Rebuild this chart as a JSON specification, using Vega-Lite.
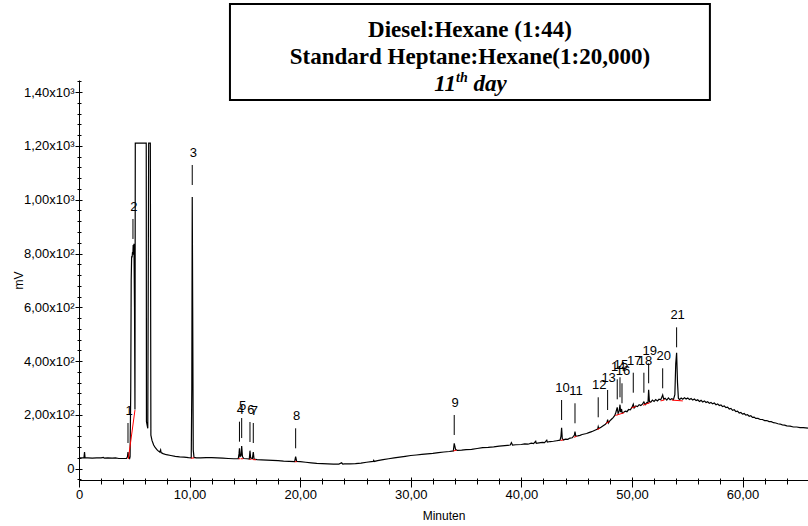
{
  "$schema": "https://vega.github.io/schema/vega-lite/v6.json",
  "width": 729,
  "height": 400,
  "autosize": {"type": "none"},
  "padding": {"left": 79, "top": 80, "right": 0, "bottom": 46},
  "background": "white",
  "config": {
    "view": {"stroke": null},
    "font": "Liberation Sans",
    "axis": {"grid": false, "domainColor": "black", "tickColor": "black", "labelColor": "black", "titleColor": "black", "labelFont": "Liberation Sans", "titleFont": "Liberation Sans", "labelFontSize": 13, "titleFontSize": 12, "titleFontWeight": "normal", "labelFlush": false, "labelOverlap": false, "domainWidth": 1, "tickWidth": 1}
  },
  "datasets": {
    "trace": [
      {"t":0,"v":40},{"t":0.3,"v":40},{"t":0.45,"v":41},{"t":0.5,"v":62},{"t":0.55,"v":40},{"t":0.8,"v":40},{"t":1.2,"v":39},{"t":1.6,"v":40},{"t":2.0,"v":40},{"t":2.2,"v":42},{"t":2.3,"v":39},{"t":2.6,"v":40},{"t":3.0,"v":39},{"t":3.3,"v":40},{"t":3.6,"v":38},{"t":4.0,"v":38},{"t":4.3,"v":38},{"t":4.38,"v":44},{"t":4.43,"v":62},{"t":4.5,"v":42},{"t":4.58,"v":38},{"t":4.62,"v":45},{"t":4.68,"v":300},{"t":4.72,"v":700},{"t":4.76,"v":790},{"t":4.8,"v":785},{"t":4.84,"v":805},{"t":4.87,"v":795},{"t":4.9,"v":832},{"t":4.93,"v":810},{"t":4.97,"v":836},{"t":5.02,"v":600},{"t":5.06,"v":220},{"t":5.09,"v":1210},{"t":6.08,"v":1210},{"t":6.1,"v":175},{"t":6.22,"v":150},{"t":6.3,"v":1210},{"t":6.45,"v":1210},{"t":6.5,"v":125},{"t":6.6,"v":105},{"t":6.75,"v":88},{"t":6.9,"v":78},{"t":7.1,"v":68},{"t":7.3,"v":62},{"t":7.38,"v":70},{"t":7.42,"v":60},{"t":7.6,"v":56},{"t":7.9,"v":52},{"t":8.3,"v":49},{"t":8.7,"v":46},{"t":9.1,"v":44},{"t":9.5,"v":43},{"t":9.9,"v":41},{"t":10.15,"v":40},{"t":10.2,"v":300},{"t":10.24,"v":1010},{"t":10.28,"v":600},{"t":10.33,"v":70},{"t":10.4,"v":42},{"t":10.6,"v":40},{"t":11,"v":40},{"t":11.5,"v":41},{"t":12,"v":41},{"t":12.5,"v":40},{"t":13,"v":39},{"t":13.5,"v":38},{"t":14,"v":37},{"t":14.4,"v":37},{"t":14.47,"v":55},{"t":14.51,"v":76},{"t":14.56,"v":45},{"t":14.65,"v":48},{"t":14.71,"v":84},{"t":14.78,"v":45},{"t":14.9,"v":38},{"t":15.2,"v":37},{"t":15.4,"v":36},{"t":15.46,"v":67},{"t":15.52,"v":40},{"t":15.68,"v":38},{"t":15.76,"v":62},{"t":15.83,"v":36},{"t":16.1,"v":34},{"t":16.5,"v":33},{"t":17,"v":32},{"t":17.5,"v":31},{"t":18,"v":30},{"t":18.5,"v":28},{"t":19,"v":27},{"t":19.5,"v":26},{"t":19.59,"v":45},{"t":19.68,"v":27},{"t":20,"v":26},{"t":20.5,"v":24},{"t":21,"v":22},{"t":21.5,"v":20},{"t":22,"v":19},{"t":22.5,"v":18},{"t":23,"v":17},{"t":23.5,"v":17},{"t":23.75,"v":22},{"t":23.85,"v":17},{"t":24,"v":18},{"t":24.5,"v":18},{"t":25,"v":19},{"t":25.5,"v":21},{"t":26,"v":24},{"t":26.6,"v":27},{"t":26.65,"v":31},{"t":26.7,"v":27},{"t":27,"v":30},{"t":27.5,"v":34},{"t":28,"v":37},{"t":28.5,"v":40},{"t":29,"v":43},{"t":29.5,"v":46},{"t":30,"v":49},{"t":30.5,"v":51},{"t":31,"v":53},{"t":31.5,"v":55},{"t":32,"v":57},{"t":32.5,"v":60},{"t":33,"v":62},{"t":33.5,"v":64},{"t":33.85,"v":66},{"t":33.93,"v":94},{"t":34.05,"v":72},{"t":34.2,"v":68},{"t":34.6,"v":69},{"t":35,"v":71},{"t":35.5,"v":72},{"t":36,"v":75},{"t":36.5,"v":78},{"t":37,"v":79},{"t":37.5,"v":81},{"t":38,"v":84},{"t":38.5,"v":86},{"t":39,"v":88},{"t":39.1,"v":97},{"t":39.2,"v":88},{"t":39.5,"v":89},
      {"t":40.0,"v":90},{"t":40.3,"v":92},{"t":40.6,"v":91},{"t":40.9,"v":95},{"t":41.1,"v":93},{"t":41.3,"v":102},{"t":41.35,"v":94},{"t":41.6,"v":96},{"t":41.9,"v":98},{"t":42.1,"v":97},{"t":42.3,"v":106},{"t":42.35,"v":99},{"t":42.6,"v":101},{"t":42.9,"v":102},{"t":43.2,"v":104},{"t":43.5,"v":106},{"t":43.58,"v":120},{"t":43.64,"v":152},{"t":43.7,"v":112},{"t":43.8,"v":107},{"t":44.0,"v":110},{"t":44.2,"v":109},{"t":44.4,"v":114},{"t":44.6,"v":115},{"t":44.8,"v":125},{"t":44.85,"v":138},{"t":44.92,"v":121},{"t":45.1,"v":122},{"t":45.3,"v":124},{"t":45.5,"v":127},{"t":45.7,"v":129},{"t":45.9,"v":131},{"t":46.1,"v":134},{"t":46.3,"v":137},{"t":46.5,"v":140},{"t":46.7,"v":144},{"t":46.9,"v":147},{"t":46.95,"v":156},{"t":47.0,"v":149},{"t":47.2,"v":154},{"t":47.4,"v":160},{"t":47.6,"v":165},{"t":47.75,"v":172},{"t":47.8,"v":182},{"t":47.87,"v":170},{"t":48.0,"v":178},{"t":48.15,"v":184},{"t":48.3,"v":190},{"t":48.45,"v":198},{"t":48.55,"v":210},{"t":48.67,"v":228},{"t":48.75,"v":205},{"t":48.85,"v":215},{"t":48.92,"v":238},{"t":48.98,"v":210},{"t":49.06,"v":222},{"t":49.12,"v":207},{"t":49.25,"v":210},{"t":49.4,"v":214},{"t":49.55,"v":212},{"t":49.7,"v":220},{"t":49.85,"v":219},{"t":50.0,"v":228},{"t":50.12,"v":240},{"t":50.2,"v":226},{"t":50.35,"v":233},{"t":50.5,"v":231},{"t":50.65,"v":238},{"t":50.8,"v":235},{"t":50.95,"v":240},{"t":51.08,"v":248},{"t":51.2,"v":238},{"t":51.35,"v":246},{"t":51.45,"v":244},{"t":51.51,"v":293},{"t":51.58,"v":250},{"t":51.7,"v":247},{"t":51.85,"v":255},{"t":52.0,"v":250},{"t":52.15,"v":257},{"t":52.3,"v":252},{"t":52.45,"v":258},{"t":52.6,"v":256},{"t":52.7,"v":266},{"t":52.78,"v":274},{"t":52.88,"v":258},{"t":53.0,"v":262},{"t":53.15,"v":255},{"t":53.3,"v":263},{"t":53.45,"v":256},{"t":53.6,"v":260},{"t":53.75,"v":257},{"t":53.88,"v":275},{"t":53.96,"v":390},{"t":54.04,"v":431},{"t":54.12,"v":320},{"t":54.2,"v":262},{"t":54.3,"v":257},{"t":54.45,"v":263},{"t":54.6,"v":258},{"t":54.75,"v":264},{"t":54.9,"v":259},{"t":55.05,"v":263},{"t":55.2,"v":257},{"t":55.35,"v":261},{"t":55.5,"v":255},{"t":55.65,"v":259},{"t":55.8,"v":253},{"t":55.95,"v":256},{"t":56.1,"v":250},{"t":56.25,"v":254},{"t":56.4,"v":248},{"t":56.55,"v":252},{"t":56.7,"v":246},{"t":56.85,"v":249},{"t":57.0,"v":243},{"t":57.15,"v":246},{"t":57.3,"v":241},{"t":57.45,"v":244},{"t":57.6,"v":238},{"t":57.75,"v":241},{"t":57.9,"v":235},{"t":58.05,"v":237},{"t":58.2,"v":231},{"t":58.35,"v":233},{"t":58.5,"v":227},{"t":58.65,"v":229},{"t":58.8,"v":222},{"t":58.95,"v":224},{"t":59.1,"v":217},{"t":59.25,"v":219},{"t":59.4,"v":212},{"t":59.55,"v":214},{"t":59.7,"v":207},{"t":59.85,"v":209},{"t":60.0,"v":203},{"t":60.15,"v":205},{"t":60.3,"v":199},{"t":60.45,"v":201},{"t":60.6,"v":195},{"t":60.75,"v":197},{"t":60.9,"v":191},{"t":61.05,"v":192},{"t":61.2,"v":187},{"t":61.4,"v":187},{"t":61.6,"v":183},{"t":61.8,"v":183},{"t":62.0,"v":179},{"t":62.2,"v":179},{"t":62.4,"v":175},{"t":62.6,"v":175},{"t":62.8,"v":171},{"t":63.0,"v":170},{"t":63.2,"v":167},{"t":63.4,"v":166},{"t":63.6,"v":163},{"t":63.8,"v":162},{"t":64.0,"v":159},{"t":64.3,"v":158},{"t":64.6,"v":155},{"t":64.9,"v":155},{"t":65.2,"v":153},{"t":65.5,"v":153},{"t":65.92,"v":151}
    ],
    "base": [
      {"seg":1,"t":4.46,"v":36},{"seg":1,"t":5.06,"v":218},
      {"seg":2,"t":10.12,"v":39},{"seg":2,"t":10.42,"v":40},
      {"seg":3,"t":14.42,"v":37},{"seg":3,"t":14.6,"v":37},
      {"seg":4,"t":14.65,"v":37},{"seg":4,"t":14.85,"v":37},
      {"seg":5,"t":15.4,"v":35},{"seg":5,"t":15.6,"v":35},
      {"seg":6,"t":15.7,"v":34},{"seg":6,"t":16.0,"v":33},
      {"seg":7,"t":19.52,"v":26},{"seg":7,"t":19.7,"v":26},
      {"seg":8,"t":33.85,"v":66},{"seg":8,"t":34.15,"v":69},
      {"seg":9,"t":43.55,"v":105},{"seg":9,"t":43.8,"v":107},
      {"seg":10,"t":44.75,"v":117},{"seg":10,"t":45.0,"v":120},
      {"seg":11,"t":46.85,"v":146},{"seg":11,"t":47.1,"v":150},
      {"seg":12,"t":47.65,"v":168},{"seg":12,"t":47.95,"v":176},
      {"seg":13,"t":48.5,"v":198},{"seg":13,"t":49.3,"v":208},
      {"seg":14,"t":49.95,"v":226},{"seg":14,"t":50.35,"v":231},
      {"seg":15,"t":51.0,"v":236},{"seg":15,"t":51.65,"v":246},
      {"seg":16,"t":52.6,"v":252},{"seg":16,"t":52.95,"v":256},
      {"seg":17,"t":53.6,"v":255},{"seg":17,"t":54.6,"v":252}
    ],
    "peaks": [
      {"label":"1","t":4.43,"lvl":95.5},{"label":"2","t":4.88,"lvl":854},{"label":"3","t":10.24,"lvl":1054.7},{"label":"4","t":14.51,"lvl":100.4},{"label":"5","t":14.71,"lvl":114},{"label":"6","t":15.46,"lvl":99.3},{"label":"7","t":15.76,"lvl":95.5},{"label":"8","t":19.59,"lvl":75.8},{"label":"9","t":33.93,"lvl":125.3},{"label":"10","t":43.64,"lvl":181},{"label":"11","t":44.85,"lvl":168.8},{"label":"12","t":46.95,"lvl":191.1},{"label":"13","t":47.8,"lvl":218.2},{"label":"14","t":48.67,"lvl":258},{"label":"15","t":48.92,"lvl":265.5},{"label":"16","t":49.1,"lvl":243.2},{"label":"17","t":50.12,"lvl":282.5},{"label":"18","t":51.08,"lvl":282.5},{"label":"19","t":51.51,"lvl":317.5},{"label":"20","t":52.78,"lvl":298.9},{"label":"21","t":54.04,"lvl":451.3}
    ]
  },
  "resolve": {"axis": {"x": "independent", "y": "independent"}},
  "layer": [
    {
      "data": {"name": "trace"},
      "mark": {"type": "line", "color": "black", "strokeWidth": 1.2},
      "encoding": {
        "x": {"field": "t", "type": "quantitative", "scale": {"domain": [0, 65.92], "nice": false, "zero": false},
          "axis": {"orient": "bottom", "title": "Minuten", "values": [0,10,20,30,40,50,60],
            "labelExpr": "datum.value == 0 ? '0' : replace(format(datum.value, '.2f'), '.', ',')",
            "tickSize": 7, "labelPadding": 1, "titlePadding": 9}},
        "y": {"field": "v", "type": "quantitative", "scale": {"domain": [-42, 1445], "nice": false, "zero": false},
          "axis": {"orient": "left", "title": "mV", "values": [0,200,400,600,800,1000,1200,1400],
            "labelExpr": "datum.value == 0 ? '0' : (datum.value >= 1000 ? replace(format(datum.value / 1000, '.2f'), '.', ',') + 'x10³' : replace(format(datum.value / 100, '.2f'), '.', ',') + 'x10²')",
            "tickSize": 4, "labelPadding": 1, "titlePadding": -2}}
      }
    },
    {
      "data": {"name": "base"},
      "mark": {"type": "line", "color": "#ff0000", "strokeWidth": 1},
      "encoding": {
        "x": {"field": "t", "type": "quantitative", "axis": {"orient": "bottom", "labels": false, "domain": false, "title": null, "values": [0,10,20,30,40,50,60], "tickSize": -3}},
        "y": {"field": "v", "type": "quantitative", "axis": {"orient": "left", "labels": false, "domain": false, "title": null, "values": [0,200,400,600,800,1000,1200,1400], "tickSize": -3}},
        "detail": {"field": "seg", "type": "nominal"}
      }
    },
    {
      "data": {"name": "peaks"},
      "mark": {"type": "rule", "color": "black", "strokeWidth": 1, "y2Offset": -20},
      "encoding": {
        "x": {"field": "t", "type": "quantitative", "axis": {"orient": "bottom", "labels": false, "domain": false, "title": null, "values": [2,4,6,8,12,14,16,18,22,24,26,28,32,34,36,38,42,44,46,48,52,54,56,58,62,64], "tickSize": 4}},
        "y": {"field": "lvl", "type": "quantitative",
          "axis": {"orient": "left", "labels": false, "domain": false, "title": null, "values": [-40,40,80,120,160,240,280,320,360,440,480,520,560,640,680,720,760,840,880,920,960,1040,1080,1120,1160,1240,1280,1320,1360,1440], "tickSize": 2}},
        "y2": {"field": "lvl"}
      }
    },
    {
      "data": {"name": "peaks"},
      "mark": {"type": "text", "dy": -32, "dx": 1, "baseline": "middle", "align": "center", "fontSize": 13, "font": "Liberation Sans", "color": "black"},
      "encoding": {
        "x": {"field": "t", "type": "quantitative",
          "axis": {"orient": "bottom", "labels": false, "domain": false, "title": null, "values": [2,4,6,8,12,14,16,18,22,24,26,28,32,34,36,38,42,44,46,48,52,54,56,58,62,64], "tickSize": -2}},
        "y": {"field": "lvl", "type": "quantitative",
          "axis": {"orient": "left", "labels": false, "domain": false, "title": null, "values": [-40,40,80,120,160,240,280,320,360,440,480,520,560,640,680,720,760,840,880,920,960,1040,1080,1120,1160,1240,1280,1320,1360,1440], "tickSize": -2}},
        "text": {"field": "label"}
      }
    },
    {
      "data": {"values": [{}]},
      "mark": {"type": "rect", "fill": "white", "stroke": "black", "strokeWidth": 2},
      "encoding": {
        "x": {"datum": 13.65, "type": "quantitative", "axis": null},
        "x2": {"datum": 57.05},
        "y": {"datum": 1727.5, "type": "quantitative", "axis": null},
        "y2": {"datum": 1370.6}
      }
    },
    {
      "data": {"values": [{}]},
      "mark": {"type": "text", "font": "Liberation Serif", "fontSize": 23, "fontWeight": "bold", "align": "center", "baseline": "alphabetic", "color": "black", "text": "Diesel:Hexane (1:44)"},
      "encoding": {
        "x": {"datum": 35.35, "type": "quantitative", "axis": null},
        "y": {"datum": 1603.7, "type": "quantitative", "axis": null}
      }
    },
    {
      "data": {"values": [{}]},
      "mark": {"type": "text", "font": "Liberation Serif", "fontSize": 23, "fontWeight": "bold", "align": "center", "baseline": "alphabetic", "color": "black", "text": "Standard Heptane:Hexane(1:20,000)"},
      "encoding": {
        "x": {"datum": 35.35, "type": "quantitative", "axis": null},
        "y": {"datum": 1504.5, "type": "quantitative", "axis": null}
      }
    },
    {
      "data": {"values": [{}]},
      "mark": {"type": "text", "font": "Liberation Serif", "fontSize": 23, "fontWeight": "bold", "fontStyle": "italic", "align": "right", "baseline": "alphabetic", "color": "black", "text": "11"},
      "encoding": {
        "x": {"datum": 34.09, "type": "quantitative", "axis": null},
        "y": {"datum": 1404.1, "type": "quantitative", "axis": null}
      }
    },
    {
      "data": {"values": [{}]},
      "mark": {"type": "text", "font": "Liberation Serif", "fontSize": 14, "fontWeight": "bold", "fontStyle": "italic", "align": "left", "baseline": "alphabetic", "color": "black", "text": "th"},
      "encoding": {
        "x": {"datum": 34.09, "type": "quantitative", "axis": null},
        "y": {"datum": 1437.6, "type": "quantitative", "axis": null}
      }
    },
    {
      "data": {"values": [{}]},
      "mark": {"type": "text", "font": "Liberation Serif", "fontSize": 23, "fontWeight": "bold", "fontStyle": "italic", "align": "left", "baseline": "alphabetic", "color": "black", "text": "day"},
      "encoding": {
        "x": {"datum": 35.67, "type": "quantitative", "axis": null},
        "y": {"datum": 1404.1, "type": "quantitative", "axis": null}
      }
    }
  ]
}
